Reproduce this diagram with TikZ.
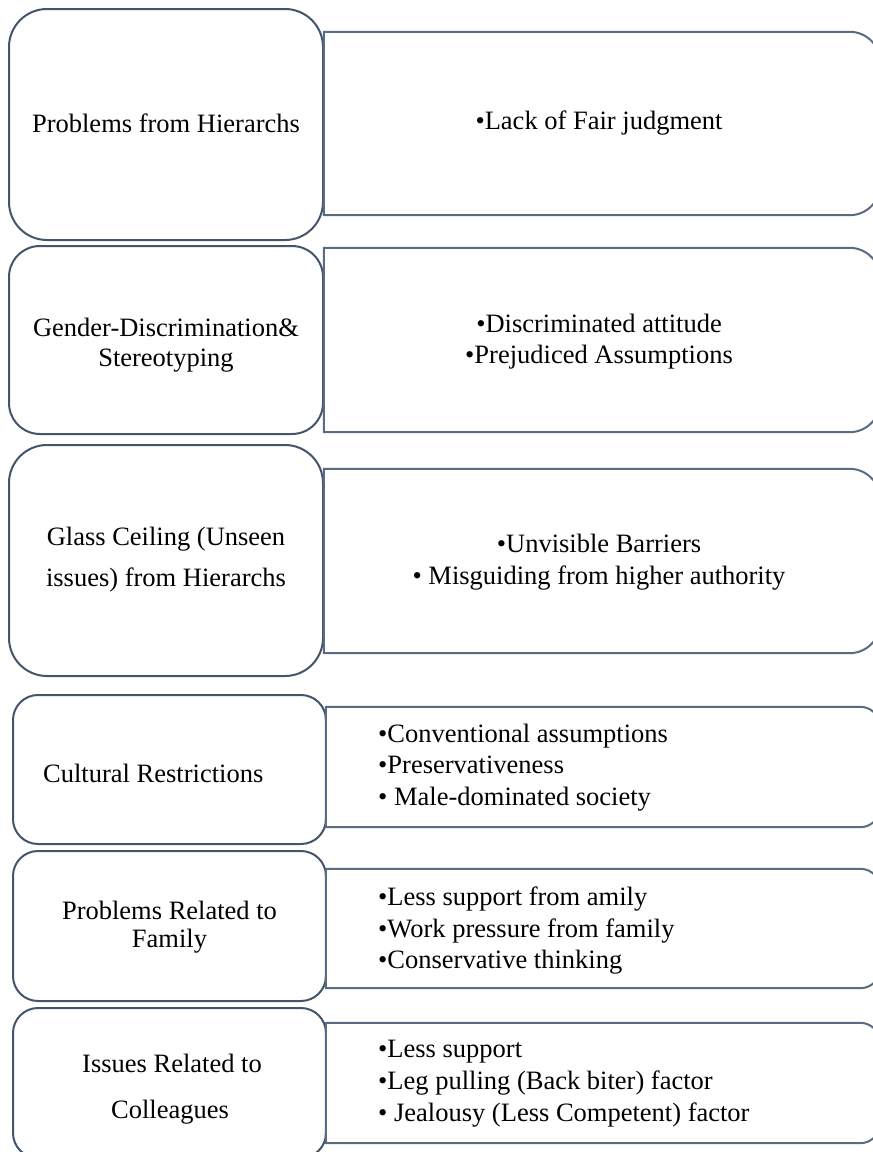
\documentclass[tikz,border=0pt]{standalone}
\usepackage{fontspec}
\setmainfont{Liberation Serif}
\definecolor{leftline}{HTML}{44546A}
\definecolor{rightline}{HTML}{5B6B82}
\tikzset{
  catbox/.style={draw=leftline, line width=2pt, fill=white, inner sep=0pt},
  itemnode/.style={draw=none, inner sep=0pt},
  itemline/.style={draw=rightline, line width=2pt, fill=white},
  txt/.style={font=\fontsize{26.5}{31}\selectfont, inner sep=0pt, anchor=base, text=black},
  txtl/.style={txt, anchor=base west},
}
\begin{document}
\begin{tikzpicture}[x=1pt,y=-1pt]
\useasboundingbox (0,0) rectangle (873,1152);
\clip (0,0) rectangle (873,1152);

% ---------- left category boxes ----------
\node[catbox, minimum width=314pt, minimum height=231pt, rounded corners=38pt] (L1) at (166,124.5) {};
\node[catbox, minimum width=314pt, minimum height=188pt, rounded corners=31pt] (L2) at (166,340) {};
\node[catbox, minimum width=314pt, minimum height=231pt, rounded corners=38pt] (L3) at (166,560.5) {};
\node[catbox, minimum width=313pt, minimum height=149pt, rounded corners=25pt] (L4) at (169.5,769.5) {};
\node[catbox, minimum width=313pt, minimum height=150pt, rounded corners=25pt] (L5) at (169.5,926) {};
\node[catbox, minimum width=313pt, minimum height=150pt, rounded corners=25pt] (L6) at (169.5,1083) {};

% ---------- right item boxes ----------
\node[itemnode, minimum width=556pt, minimum height=183pt] (R1) at (602,123.5) {};
\node[itemnode, minimum width=556pt, minimum height=184pt] (R2) at (602,340) {};
\node[itemnode, minimum width=556pt, minimum height=184pt] (R3) at (602,561) {};
\node[itemnode, minimum width=554pt, minimum height=120pt] (R4) at (603,767) {};
\node[itemnode, minimum width=554pt, minimum height=119pt] (R5) at (603,928.5) {};
\node[itemnode, minimum width=554pt, minimum height=120pt] (R6) at (603,1083) {};

\foreach \b/\r in {R1/30.5pt, R2/30.7pt, R3/30.7pt, R4/20pt, R5/19.8pt, R6/20pt}{
  \draw[itemline] (\b.north west) -- ([xshift=-\r]\b.north east)
    arc[start angle=90, end angle=0, radius=\r]
    -- ([yshift=\r]\b.south east)
    arc[start angle=0, end angle=-90, radius=\r]
    -- (\b.south west) -- cycle;
}

% ---------- texts ----------
\node[txt] (t1) at (166,132) {Problems from Hierarchs};
\node[txt] (u1) at (599,129) {•Lack of Fair judgment};

\node[txt] (t2a) at (166,336) {Gender-Discrimination\&};
\node[txt] (t2b) at (166,366) {Stereotyping};
\node[txt] (u2a) at (599,332) {•Discriminated attitude};
\node[txt] (u2b) at (599,363) {•Prejudiced Assumptions};

\node[txt] (t3a) at (166,545) {Glass Ceiling (Unseen};
\node[txt] (t3b) at (166,586) {issues) from Hierarchs};
\node[txt] (u3a) at (599,552) {•Unvisible Barriers};
\node[txt] (u3b) at (599,584) {• Misguiding from higher authority};

\node[txtl] (t4) at (43,782) {Cultural Restrictions};
\node[txtl] (u4a) at (378,742) {•Conventional assumptions};
\node[txtl] (u4b) at (378,773) {•Preservativeness};
\node[txtl] (u4c) at (378,805) {• Male-dominated society};

\node[txt] (t5a) at (169.5,919) {Problems Related to};
\node[txt] (t5b) at (169.5,947) {Family};
\node[txtl] (u5a) at (378,905) {•Less support from amily};
\node[txtl] (u5b) at (378,937) {•Work pressure from family};
\node[txtl] (u5c) at (378,968) {•Conservative thinking};

\node[txt] (t6a) at (172,1072) {Issues Related to};
\node[txt] (t6b) at (170,1118) {Colleagues};
\node[txtl] (u6a) at (378,1057) {•Less support};
\node[txtl] (u6b) at (378,1089) {•Leg pulling (Back biter) factor};
\node[txtl] (u6c) at (378,1121) {• Jealousy (Less Competent) factor};
\end{tikzpicture}
\end{document}
